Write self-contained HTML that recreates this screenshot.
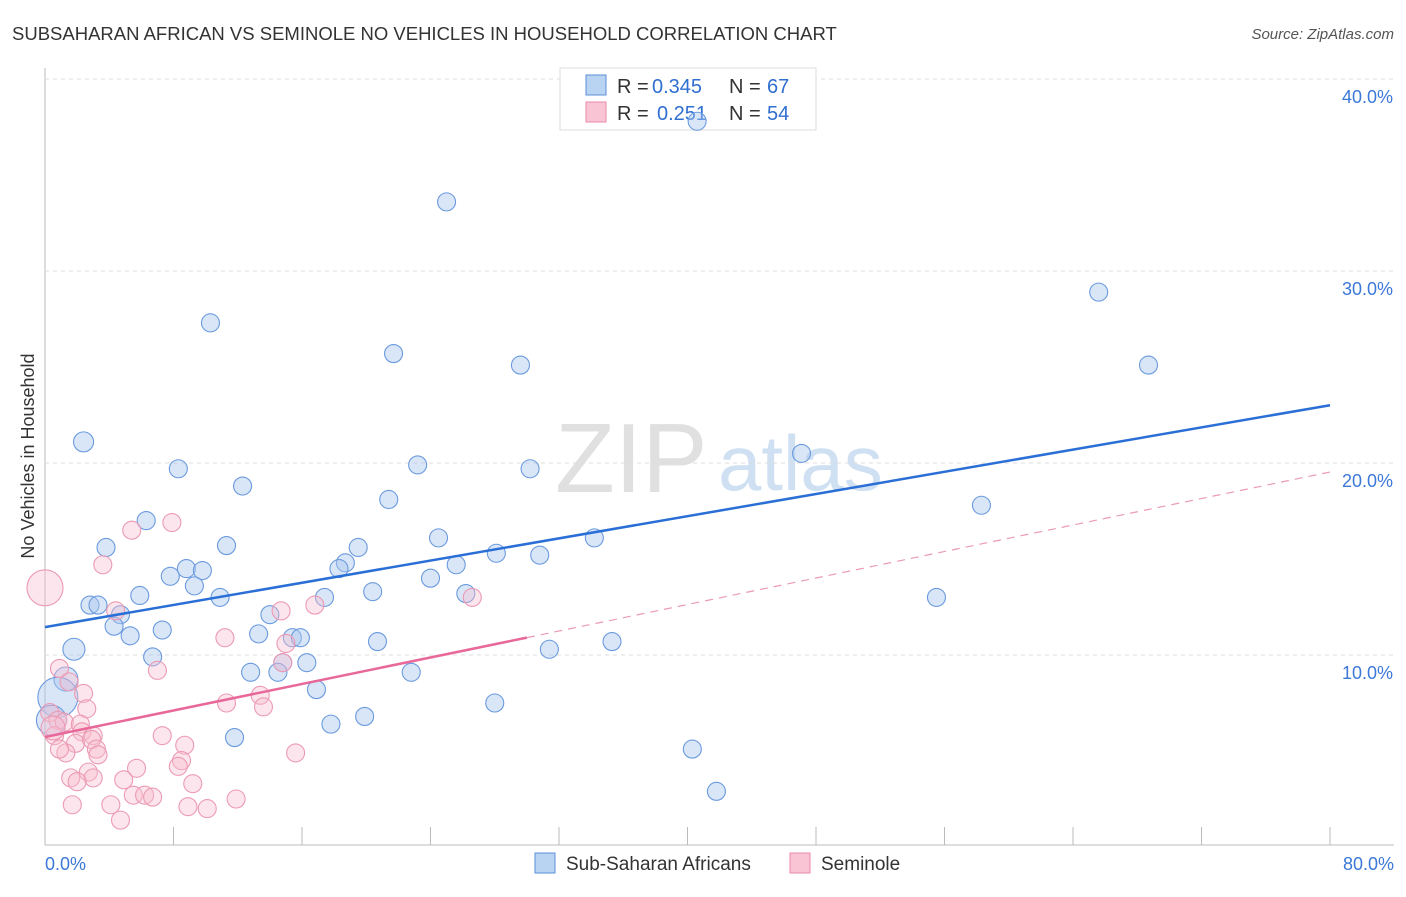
<!DOCTYPE html>
<html><head><meta charset="utf-8"><style>
body{margin:0;background:#fff;font-family:"Liberation Sans",sans-serif}
svg text{font-family:"Liberation Sans",sans-serif}
</style></head><body>
<svg id="c" width="1406" height="892">
<text x="12" y="40" font-size="18.5" fill="#333">SUBSAHARAN AFRICAN VS SEMINOLE NO VEHICLES IN HOUSEHOLD CORRELATION CHART</text>
<text x="1394" y="39" font-size="15" fill="#555" font-style="italic" text-anchor="end">Source: ZipAtlas.com</text>
<text x="555" y="492" font-size="98" fill="#e0e0e0" font-family="Liberation Serif">ZIP</text>
<text x="718" y="490" font-size="78" fill="#cfe0f3">atlas</text>
<text transform="translate(34,456) rotate(-90)" font-size="18" fill="#333" text-anchor="middle">No Vehicles in Household</text>
<g id="grid"></g>
<g>
<rect x="560" y="68" width="256" height="62" fill="#fff" stroke="#ddd"/>
<rect x="586" y="75" width="20" height="20" fill="#b9d3f3" stroke="#5b8fd9"/>
<rect x="586" y="102" width="20" height="20" fill="#f9c5d5" stroke="#e58aa8"/>
<text x="617" y="93" font-size="20" fill="#333">R =</text><text x="652" y="93" font-size="20" fill="#2f6fd0">0.345</text>
<text x="729" y="93" font-size="20" fill="#333">N =</text><text x="767" y="93" font-size="20" fill="#2f6fd0">67</text>
<text x="617" y="120" font-size="20" fill="#333">R =</text><text x="657" y="120" font-size="20" fill="#2f6fd0">0.251</text>
<text x="729" y="120" font-size="20" fill="#333">N =</text><text x="767" y="120" font-size="20" fill="#2f6fd0">54</text>
</g>
<g id="pts"></g><g id="lines"></g>
<g>
<rect x="535" y="853" width="20" height="20" fill="#b9d3f3" stroke="#5b8fd9"/>
<text x="566" y="870" font-size="19" fill="#333">Sub-Saharan Africans</text>
<rect x="790" y="853" width="20" height="20" fill="#f9c5d5" stroke="#e58aa8"/>
<text x="821" y="870" font-size="19" fill="#333">Seminole</text>
</g>
<text x="45" y="870" font-size="18" fill="#3b78d8">0.0%</text>
<text x="1394" y="870" font-size="18" fill="#3b78d8" text-anchor="end">80.0%</text>
</svg>
<script>
const yTicks=[10,20,30,40];
const xTickVals=[0,8,16,24,32,40,48,56,64,72,80];
const blueX=[2.4,10.3,25.0,40.6,21.7,29.6,65.6,68.7,8.3,12.3,23.2,30.2,47.1,58.3,21.4,6.3,3.8,11.3,19.5,24.5,34.2,28.1,30.8,18.7,18.3,25.6,8.8,9.8,7.8,9.3,24.0,20.4,5.9,10.9,17.4,26.2,55.5,2.8,3.3,4.7,14.0,4.3,7.3,5.3,13.3,15.4,15.9,20.7,35.3,1.8,31.4,6.7,14.8,16.3,12.8,14.5,22.8,1.3,16.9,0.8,28.0,19.9,17.8,0.4,11.8,40.3,41.8];
const blueY=[21.1,27.3,33.6,37.8,25.7,25.1,28.9,25.1,19.7,18.8,19.9,19.7,20.5,17.8,18.1,17.0,15.6,15.7,15.6,16.1,16.1,15.3,15.2,14.8,14.5,14.7,14.5,14.4,14.1,13.6,14.0,13.3,13.1,13.0,13.0,13.2,13.0,12.6,12.6,12.1,12.1,11.5,11.3,11.0,11.1,10.9,10.9,10.7,10.7,10.3,10.3,9.9,9.6,9.6,9.1,9.1,9.1,8.75,8.2,7.8,7.5,6.8,6.4,6.6,5.7,5.1,2.9];
const blueR=[10,9,9,9,9,9,9,9,9,9,9,9,9,9,9,9,9,9,9,9,9,9,9,9,9,9,9,9,9,9,9,9,9,9,9,9,9,9,9,9,9,9,9,9,9,9,9,9,9,11,9,9,9,9,9,9,9,12,9,20,9,9,9,15,9,9,9];
const pinkX=[0,5.4,7.9,3.6,4.4,14.7,16.8,26.6,11.2,15.0,14.8,7.0,0.9,2.4,1.5,2.6,11.3,13.4,13.6,0.3,0.8,1.2,2.2,2.3,3.0,0.6,1.9,7.3,2.9,3.2,3.3,1.3,0.9,8.7,15.6,8.5,8.3,2.7,5.7,1.6,3.0,2.0,9.2,5.5,6.2,6.7,11.9,1.7,4.1,8.9,10.1,4.7,4.9,0.5];
const pinkY=[13.5,16.5,16.9,14.7,12.3,12.3,12.6,13.0,10.9,10.6,9.6,9.2,9.3,8.0,8.6,7.2,7.5,7.9,7.3,7.0,6.6,6.5,6.4,6.0,5.8,5.8,5.4,5.8,5.6,5.1,4.8,4.9,5.1,5.3,4.9,4.5,4.2,3.9,4.1,3.6,3.6,3.4,3.3,2.7,2.7,2.6,2.5,2.2,2.2,2.1,2.0,1.4,3.5,6.2];
const pinkR=[18,9,9,9,9,9,9,9,9,9,9,9,9,9,9,9,9,9,9,9,9,9,9,9,9,9,9,9,9,9,9,9,9,9,9,9,9,9,9,9,9,9,9,9,9,9,9,9,9,9,9,9,9,12];
const blueTrend=[11.45,0.1445];
const pinkTrend=[5.73,0.1725];
const pinkSolidEnd=[30];
const X=v=>45+v/80*1285, Y=v=>847-v*19.2;
const NS='http://www.w3.org/2000/svg';
function mk(t,a,p){const e=document.createElementNS(NS,t);for(const k in a)e.setAttribute(k,a[k]);p.appendChild(e);return e;}
const g=document.getElementById('grid');
let ax=mk('line',{x1:45,y1:68,x2:45,y2:845,stroke:'#bbb'},g);


let xa=mk('line',{x1:45,y1:845,x2:1394,y2:845,stroke:'#bbb'},g);


yTicks.forEach(v=>{
 const l=mk('line',{x1:45,y1:Y(v),x2:1394,y2:Y(v),stroke:'#ddd','stroke-dasharray':'4,4'},g);
 
 
 const t=mk('text',{x:1393,y:Y(v)+24,'font-size':18,fill:'#3b78d8','text-anchor':'end'},g);
 t.textContent=v.toFixed(1)+'%';
 
 
});
xTickVals.forEach(v=>{
 const l=mk('line',{x1:X(v),y1:827,x2:X(v),y2:845,stroke:'#bbb'},g);
 
 
});
const P=document.getElementById('pts');
blueX.forEach((x,i)=>{
 const c=mk('circle',{cx:X(x),cy:Y(blueY[i]),r:blueR[i],fill:'rgba(170,200,240,0.45)',stroke:'#6a9ade','stroke-width':1.1},P);
 
 
});
pinkX.forEach((x,i)=>{
 const c=mk('circle',{cx:X(x),cy:Y(pinkY[i]),r:pinkR[i],fill:'rgba(248,190,208,0.4)',stroke:'#ec9ab4','stroke-width':1.1},P);
 
 
});
const L=document.getElementById('lines');
let bl=mk('line',{x1:X(0),y1:Y(blueTrend[0]),x2:X(80),y2:Y(blueTrend[0]+blueTrend[1]*80),stroke:'#2a6fd6','stroke-width':2.5},L);


const pe=pinkSolidEnd[0];
let pl=mk('line',{x1:X(0),y1:Y(pinkTrend[0]),x2:X(pe),y2:Y(pinkTrend[0]+pinkTrend[1]*pe),stroke:'#e8689a','stroke-width':2.5},L);


let pd=mk('line',{x1:X(pe),y1:Y(pinkTrend[0]+pinkTrend[1]*pe),x2:X(80),y2:Y(pinkTrend[0]+pinkTrend[1]*80),stroke:'#eb9ab8','stroke-width':1.2,'stroke-dasharray':'8,6'},L);


</script>
</body></html>
